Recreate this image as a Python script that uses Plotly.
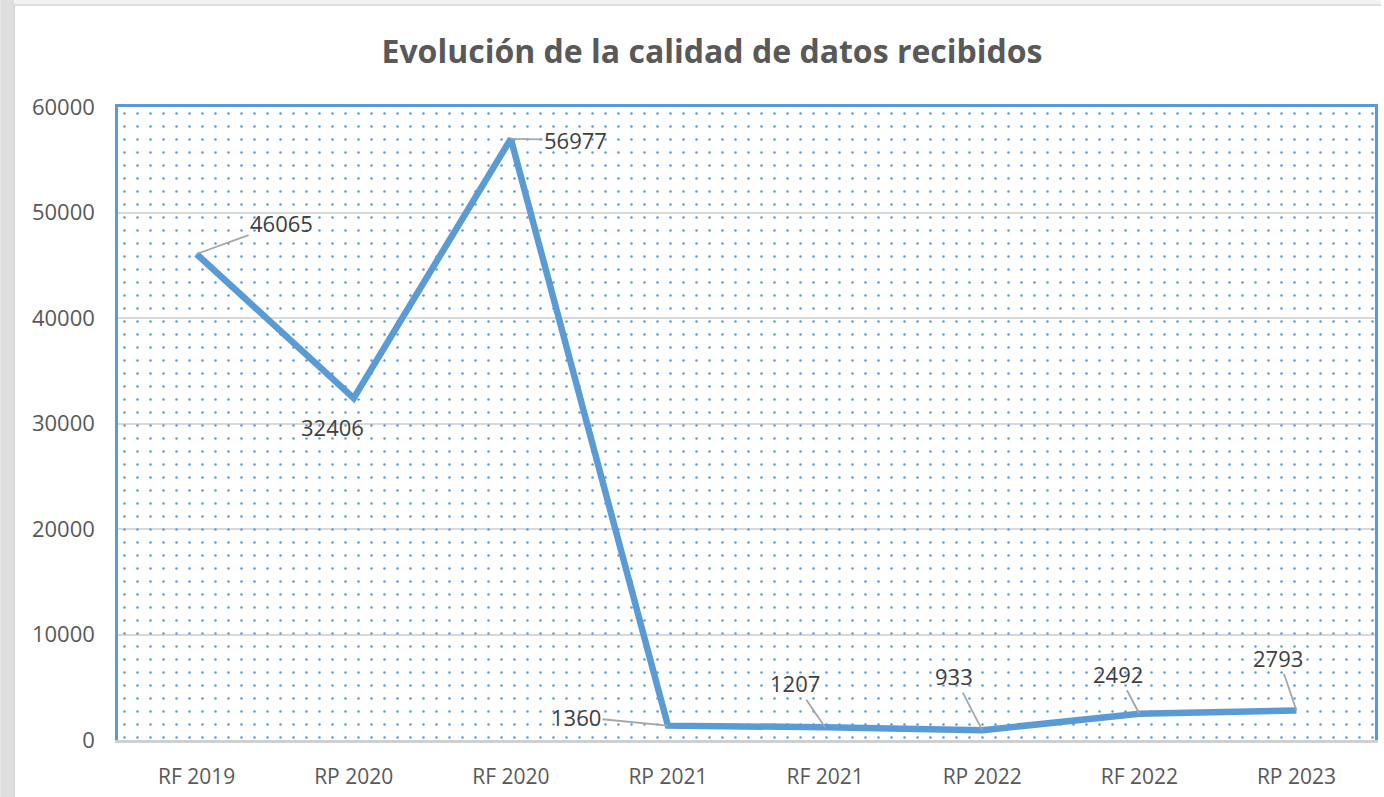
import plotly.graph_objects as go

categories = ["RF 2019", "RP 2020", "RF 2020", "RP 2021", "RF 2021", "RP 2022", "RF 2022", "RP 2023"]
values = [46065, 32406, 56977, 1360, 1207, 933, 2492, 2793]
# label offsets (px) relative to each point: (ax, ay, leader)
label_offsets = [(85, -31, True), (-21, 29, False), (65, 1, True), (-92, -9, True),
                 (-30, -44, True), (-28, -54, True), (-21, -40, True), (-18, -53, True)]
y_ticks = [0, 10000, 20000, 30000, 40000, 50000, 60000]
y_tick_text = ["0", "10000", "20000", "30000", "40000", "50000", "60000"]

W, H = 1384, 797
L, R, T, B = 118, 6, 107, 57
PW, PH = W - L - R, H - T - B

BLUE = "#5b9bd5"
FONT = "Open Sans"
TXT = "#595959"

fig = go.Figure()

# dotted background pattern on hidden unit axes
fig.add_trace(go.Scatter(
    x=[0, 1, 1, 0, 0], y=[0, 0, 1, 1, 0], xaxis="x", yaxis="y",
    mode="none", fill="toself", fillcolor="rgba(255,255,255,0)",
    fillpattern=dict(shape=".", size=13, solidity=0.03, fgcolor=BLUE,
                     bgcolor="rgba(255,255,255,0)", fgopacity=1),
    hoverinfo="skip", showlegend=False))

fig.add_trace(go.Scatter(
    x=categories, y=values, xaxis="x2", yaxis="y2",
    mode="lines", line=dict(color=BLUE, width=6.5),
    showlegend=False))

annotations = []
for c, v, (ax, ay, lead) in zip(categories, values, label_offsets):
    if lead:
        annotations.append(dict(
            x=c, y=v, xref="x2", yref="y2", text=str(v), showarrow=True,
            arrowhead=0, arrowwidth=1.8, arrowcolor="#a6a6a6", ax=ax, ay=ay,
            standoff=0, startstandoff=0,
            font=dict(family=FONT, size=22, color="#404040")))
    else:
        annotations.append(dict(
            x=c, y=v, xref="x2", yref="y2", text=str(v), showarrow=False,
            xshift=ax, yshift=-ay,
            font=dict(family=FONT, size=22, color="#404040")))

def px_x(p):
    return (p - L) / PW

def px_y(p):
    return (H - B - p) / PH

shapes = [
    dict(type="rect", xref="paper", yref="paper", x0=px_x(0), x1=px_x(14),
         y0=px_y(H), y1=px_y(0), fillcolor="#dedede", line=dict(width=0), layer="below"),
    dict(type="rect", xref="paper", yref="paper", x0=px_x(14), x1=px_x(W),
         y0=px_y(5), y1=px_y(0), fillcolor="#f2f2f2", line=dict(width=0), layer="below"),
    dict(type="line", xref="paper", yref="paper", x0=px_x(14), x1=px_x(W),
         y0=px_y(5), y1=px_y(5), line=dict(color="#d4d4d4", width=1.5)),
    dict(type="line", xref="paper", yref="paper", x0=px_x(14), x1=px_x(14),
         y0=px_y(H), y1=px_y(5), line=dict(color="#d4d4d4", width=1.5)),
]

fig.update_layout(
    width=W, height=H,
    margin=dict(l=L, r=R, t=T, b=B),
    paper_bgcolor="white", plot_bgcolor="white",
    title=dict(text="<b>Evolución de la calidad de datos recibidos</b>",
               x=712 / W, xanchor="center", y=1 - 52 / H, yanchor="middle",
               font=dict(family=FONT, size=32, color=TXT)),
    xaxis=dict(range=[0, 1], showgrid=False, zeroline=False, showticklabels=False,
               ticks="", showline=True, linecolor=BLUE, linewidth=2.5, side="top",
               fixedrange=True),
    yaxis=dict(range=[0, 1], showgrid=False, zeroline=False, showticklabels=False,
               ticks="", showline=False, fixedrange=True),
    xaxis2=dict(overlaying="x", anchor="y2", type="category", range=[-0.5, 7.5],
                categoryorder="array", categoryarray=categories,
                showgrid=False, zeroline=False, showline=True, linecolor="#d0d0d0",
                linewidth=2.5, ticks="", ticklabelstandoff=16,
                tickfont=dict(family=FONT, size=21, color=TXT)),
    yaxis2=dict(overlaying="y", anchor="x2", range=[0, 60000], tickvals=y_ticks,
                ticktext=y_tick_text,
                showgrid=True, gridcolor="#d9d9d9", gridwidth=2, zeroline=False,
                showline=True, mirror=True, linecolor=BLUE, linewidth=2.5,
                ticks="", ticklabelstandoff=16,
                tickfont=dict(family=FONT, size=22, color=TXT)),
    annotations=annotations,
    shapes=shapes,
)

fig.write_html("out.html", config={"displayModeBar": False},
               post_script="document.body.style.margin='0';")
